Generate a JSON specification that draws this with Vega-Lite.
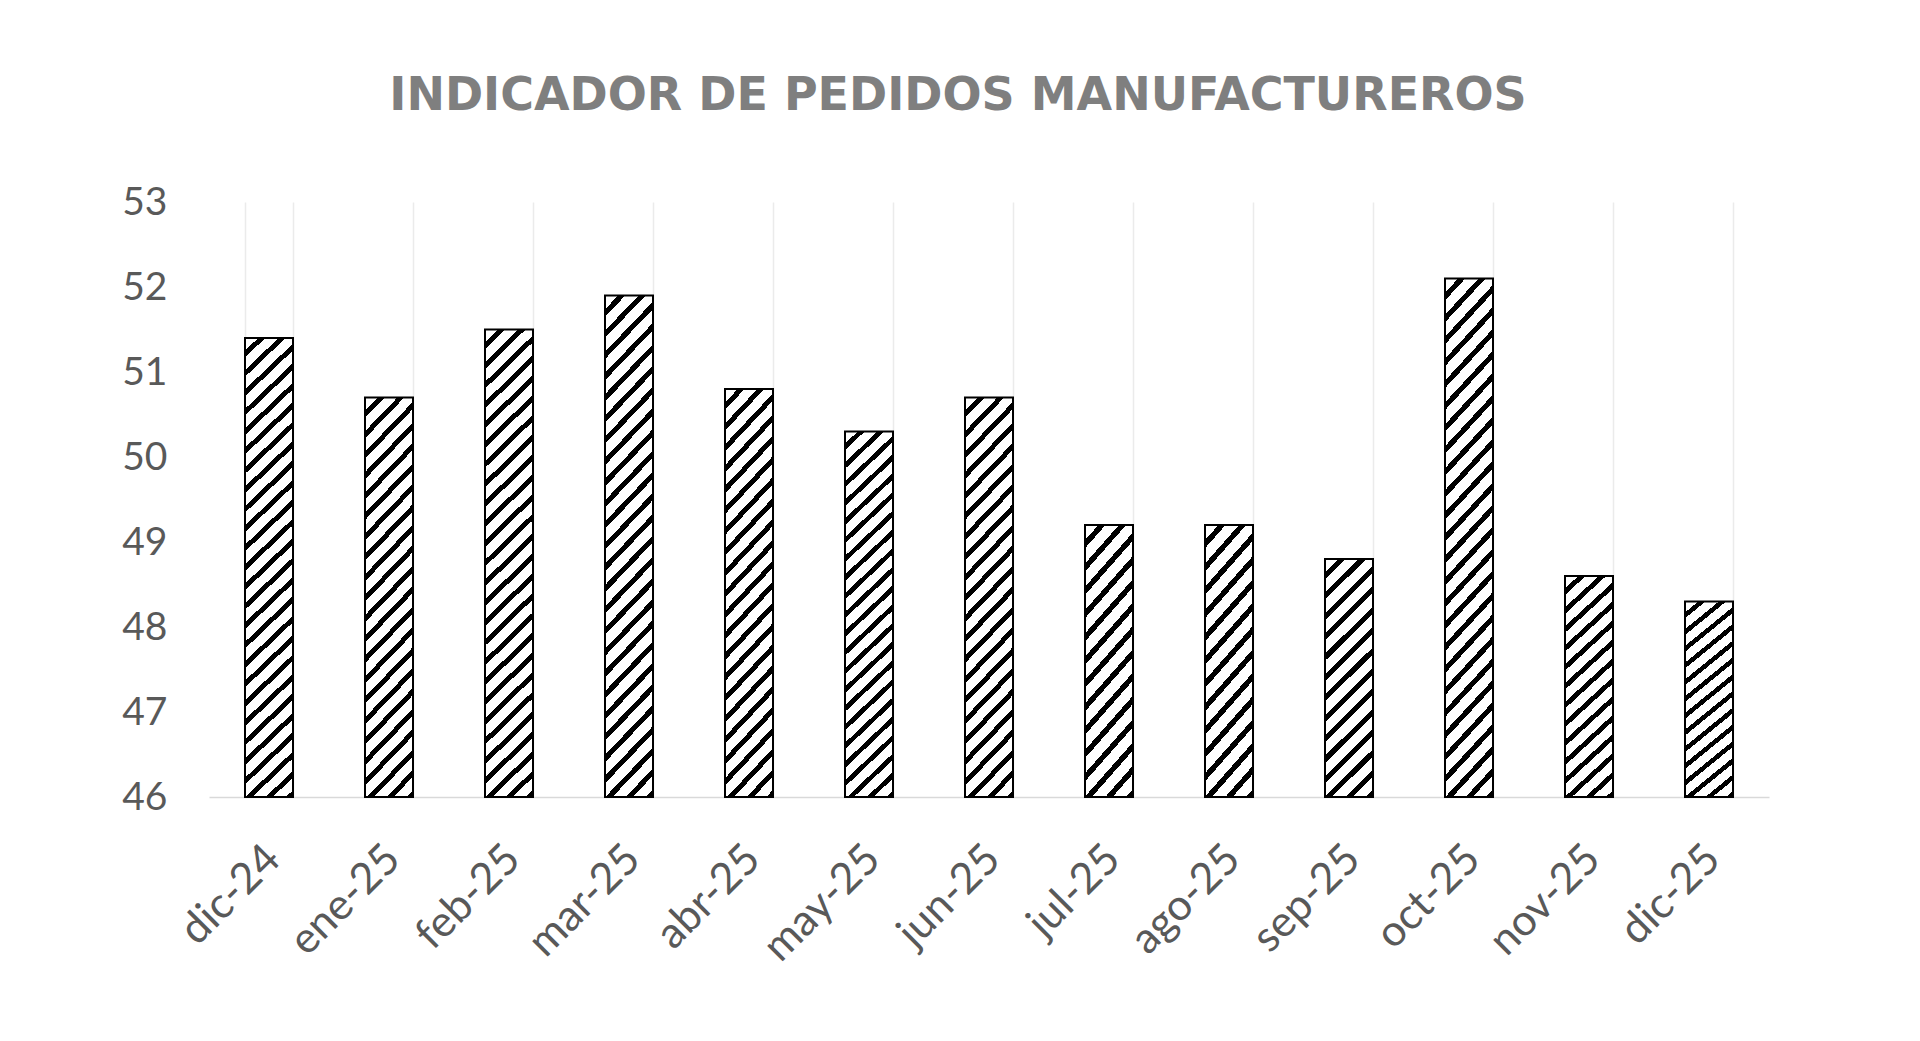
{
  "$schema": "https://vega.github.io/schema/vega-lite/v6.json",
  "width": 1560,
  "height": 595,
  "autosize": "none",
  "padding": {"left": 209, "top": 202, "right": 151, "bottom": 244},
  "background": "#ffffff",
  "title": {
    "text": "INDICADOR DE PEDIDOS MANUFACTUREROS",
    "font": "DejaVu Sans",
    "fontSize": 46,
    "fontWeight": "bold",
    "color": "#7f7f7f",
    "anchor": "middle",
    "baseline": "alphabetic",
    "offset": 27,
    "dx": -31
  },
  "data": {
    "values": [
      {"mes": "dic-24", "valor": 51.4},
      {"mes": "ene-25", "valor": 50.7},
      {"mes": "feb-25", "valor": 51.5},
      {"mes": "mar-25", "valor": 51.9},
      {"mes": "abr-25", "valor": 50.8},
      {"mes": "may-25", "valor": 50.3},
      {"mes": "jun-25", "valor": 50.7},
      {"mes": "jul-25", "valor": 49.2},
      {"mes": "ago-25", "valor": 49.2},
      {"mes": "sep-25", "valor": 48.8},
      {"mes": "oct-25", "valor": 52.1},
      {"mes": "nov-25", "valor": 48.6},
      {"mes": "dic-25", "valor": 48.3}
    ]
  },
  "mark": {"type": "bar", "stroke": "#000000", "strokeWidth": 2},
  "encoding": {
    "x": {
      "field": "mes",
      "type": "nominal",
      "sort": null,
      "scale": {"paddingInner": 0.6, "paddingOuter": 0.3},
      "axis": {
        "title": null,
        "labelAngle": -45,
        "labelFont": "Lato",
        "labelFontSize": 43,
        "labelColor": "#595959",
        "labelPadding": 40,
        "labelOffset": -11,
        "ticks": false,
        "grid": true,
        "gridColor": "#ebebeb",
        "gridWidth": 1.5,
        "tickBand": "extent",
        "domainColor": "#d9d9d9",
        "domainWidth": 1.5
      }
    },
    "y": {
      "field": "valor",
      "type": "quantitative",
      "scale": {"domain": [46, 53], "zero": false, "nice": false},
      "axis": {
        "title": null,
        "values": [46, 47, 48, 49, 50, 51, 52, 53],
        "labelFont": "Lato",
        "labelFontSize": 39,
        "labelColor": "#595959",
        "labelPadding": 42,
        "ticks": false,
        "domain": false,
        "grid": false
      }
    },
    "y2": {"datum": 46},
    "fill": {
      "condition": [
        {
          "test": "datum.valor < 49.5",
          "value": {
            "gradient": "linear",
            "x1": 0, "y1": 0, "x2": 0.2308, "y2": 1.1538,
            "stops": [
              {"offset": 0, "color": "#ffffff"}, {"offset": 0.0464, "color": "#ffffff"}, {"offset": 0.0464, "color": "#000000"}, {"offset": 0.0714, "color": "#000000"},
              {"offset": 0.0714, "color": "#ffffff"}, {"offset": 0.1179, "color": "#ffffff"}, {"offset": 0.1179, "color": "#000000"}, {"offset": 0.1429, "color": "#000000"},
              {"offset": 0.1429, "color": "#ffffff"}, {"offset": 0.1893, "color": "#ffffff"}, {"offset": 0.1893, "color": "#000000"}, {"offset": 0.2143, "color": "#000000"},
              {"offset": 0.2143, "color": "#ffffff"}, {"offset": 0.2607, "color": "#ffffff"}, {"offset": 0.2607, "color": "#000000"}, {"offset": 0.2857, "color": "#000000"},
              {"offset": 0.2857, "color": "#ffffff"}, {"offset": 0.3321, "color": "#ffffff"}, {"offset": 0.3321, "color": "#000000"}, {"offset": 0.3571, "color": "#000000"},
              {"offset": 0.3571, "color": "#ffffff"}, {"offset": 0.4036, "color": "#ffffff"}, {"offset": 0.4036, "color": "#000000"}, {"offset": 0.4286, "color": "#000000"},
              {"offset": 0.4286, "color": "#ffffff"}, {"offset": 0.4750, "color": "#ffffff"}, {"offset": 0.4750, "color": "#000000"}, {"offset": 0.5, "color": "#000000"},
              {"offset": 0.5, "color": "#ffffff"}, {"offset": 0.5464, "color": "#ffffff"}, {"offset": 0.5464, "color": "#000000"}, {"offset": 0.5714, "color": "#000000"},
              {"offset": 0.5714, "color": "#ffffff"}, {"offset": 0.6179, "color": "#ffffff"}, {"offset": 0.6179, "color": "#000000"}, {"offset": 0.6429, "color": "#000000"},
              {"offset": 0.6429, "color": "#ffffff"}, {"offset": 0.6893, "color": "#ffffff"}, {"offset": 0.6893, "color": "#000000"}, {"offset": 0.7143, "color": "#000000"},
              {"offset": 0.7143, "color": "#ffffff"}, {"offset": 0.7607, "color": "#ffffff"}, {"offset": 0.7607, "color": "#000000"}, {"offset": 0.7857, "color": "#000000"},
              {"offset": 0.7857, "color": "#ffffff"}, {"offset": 0.8321, "color": "#ffffff"}, {"offset": 0.8321, "color": "#000000"}, {"offset": 0.8571, "color": "#000000"},
              {"offset": 0.8571, "color": "#ffffff"}, {"offset": 0.9036, "color": "#ffffff"}, {"offset": 0.9036, "color": "#000000"}, {"offset": 0.9286, "color": "#000000"},
              {"offset": 0.9286, "color": "#ffffff"}, {"offset": 0.9750, "color": "#ffffff"}, {"offset": 0.9750, "color": "#000000"}, {"offset": 1, "color": "#000000"}
            ]
          }
        },
        {
          "test": "datum.valor > 51",
          "value": {
            "gradient": "linear",
            "x1": 0, "y1": 0, "x2": 0.1089, "y2": 1.089,
            "stops": [
              {"offset": 0, "color": "#ffffff"}, {"offset": 0.025, "color": "#ffffff"}, {"offset": 0.025, "color": "#000000"}, {"offset": 0.0385, "color": "#000000"},
              {"offset": 0.0385, "color": "#ffffff"}, {"offset": 0.0635, "color": "#ffffff"}, {"offset": 0.0635, "color": "#000000"}, {"offset": 0.0769, "color": "#000000"},
              {"offset": 0.0769, "color": "#ffffff"}, {"offset": 0.1019, "color": "#ffffff"}, {"offset": 0.1019, "color": "#000000"}, {"offset": 0.1154, "color": "#000000"},
              {"offset": 0.1154, "color": "#ffffff"}, {"offset": 0.1404, "color": "#ffffff"}, {"offset": 0.1404, "color": "#000000"}, {"offset": 0.1538, "color": "#000000"},
              {"offset": 0.1538, "color": "#ffffff"}, {"offset": 0.1788, "color": "#ffffff"}, {"offset": 0.1788, "color": "#000000"}, {"offset": 0.1923, "color": "#000000"},
              {"offset": 0.1923, "color": "#ffffff"}, {"offset": 0.2173, "color": "#ffffff"}, {"offset": 0.2173, "color": "#000000"}, {"offset": 0.2308, "color": "#000000"},
              {"offset": 0.2308, "color": "#ffffff"}, {"offset": 0.2558, "color": "#ffffff"}, {"offset": 0.2558, "color": "#000000"}, {"offset": 0.2692, "color": "#000000"},
              {"offset": 0.2692, "color": "#ffffff"}, {"offset": 0.2942, "color": "#ffffff"}, {"offset": 0.2942, "color": "#000000"}, {"offset": 0.3077, "color": "#000000"},
              {"offset": 0.3077, "color": "#ffffff"}, {"offset": 0.3327, "color": "#ffffff"}, {"offset": 0.3327, "color": "#000000"}, {"offset": 0.3462, "color": "#000000"},
              {"offset": 0.3462, "color": "#ffffff"}, {"offset": 0.3712, "color": "#ffffff"}, {"offset": 0.3712, "color": "#000000"}, {"offset": 0.3846, "color": "#000000"},
              {"offset": 0.3846, "color": "#ffffff"}, {"offset": 0.4096, "color": "#ffffff"}, {"offset": 0.4096, "color": "#000000"}, {"offset": 0.4231, "color": "#000000"},
              {"offset": 0.4231, "color": "#ffffff"}, {"offset": 0.4481, "color": "#ffffff"}, {"offset": 0.4481, "color": "#000000"}, {"offset": 0.4615, "color": "#000000"},
              {"offset": 0.4615, "color": "#ffffff"}, {"offset": 0.4865, "color": "#ffffff"}, {"offset": 0.4865, "color": "#000000"}, {"offset": 0.5, "color": "#000000"},
              {"offset": 0.5, "color": "#ffffff"}, {"offset": 0.525, "color": "#ffffff"}, {"offset": 0.525, "color": "#000000"}, {"offset": 0.5385, "color": "#000000"},
              {"offset": 0.5385, "color": "#ffffff"}, {"offset": 0.5635, "color": "#ffffff"}, {"offset": 0.5635, "color": "#000000"}, {"offset": 0.5769, "color": "#000000"},
              {"offset": 0.5769, "color": "#ffffff"}, {"offset": 0.6019, "color": "#ffffff"}, {"offset": 0.6019, "color": "#000000"}, {"offset": 0.6154, "color": "#000000"},
              {"offset": 0.6154, "color": "#ffffff"}, {"offset": 0.6404, "color": "#ffffff"}, {"offset": 0.6404, "color": "#000000"}, {"offset": 0.6538, "color": "#000000"},
              {"offset": 0.6538, "color": "#ffffff"}, {"offset": 0.6788, "color": "#ffffff"}, {"offset": 0.6788, "color": "#000000"}, {"offset": 0.6923, "color": "#000000"},
              {"offset": 0.6923, "color": "#ffffff"}, {"offset": 0.7173, "color": "#ffffff"}, {"offset": 0.7173, "color": "#000000"}, {"offset": 0.7308, "color": "#000000"},
              {"offset": 0.7308, "color": "#ffffff"}, {"offset": 0.7558, "color": "#ffffff"}, {"offset": 0.7558, "color": "#000000"}, {"offset": 0.7692, "color": "#000000"},
              {"offset": 0.7692, "color": "#ffffff"}, {"offset": 0.7942, "color": "#ffffff"}, {"offset": 0.7942, "color": "#000000"}, {"offset": 0.8077, "color": "#000000"},
              {"offset": 0.8077, "color": "#ffffff"}, {"offset": 0.8327, "color": "#ffffff"}, {"offset": 0.8327, "color": "#000000"}, {"offset": 0.8462, "color": "#000000"},
              {"offset": 0.8462, "color": "#ffffff"}, {"offset": 0.8712, "color": "#ffffff"}, {"offset": 0.8712, "color": "#000000"}, {"offset": 0.8846, "color": "#000000"},
              {"offset": 0.8846, "color": "#ffffff"}, {"offset": 0.9096, "color": "#ffffff"}, {"offset": 0.9096, "color": "#000000"}, {"offset": 0.9231, "color": "#000000"},
              {"offset": 0.9231, "color": "#ffffff"}, {"offset": 0.9481, "color": "#ffffff"}, {"offset": 0.9481, "color": "#000000"}, {"offset": 0.9615, "color": "#000000"},
              {"offset": 0.9615, "color": "#ffffff"}, {"offset": 0.9865, "color": "#ffffff"}, {"offset": 0.9865, "color": "#000000"}, {"offset": 1, "color": "#000000"}
            ]
          }
        }
      ],
      "value": {
        "gradient": "linear",
        "x1": 0, "y1": 0, "x2": 0.1385, "y2": 1.108,
        "stops": [
          {"offset": 0, "color": "#ffffff"}, {"offset": 0.0295, "color": "#ffffff"}, {"offset": 0.0295, "color": "#000000"}, {"offset": 0.0455, "color": "#000000"},
          {"offset": 0.0455, "color": "#ffffff"}, {"offset": 0.0750, "color": "#ffffff"}, {"offset": 0.0750, "color": "#000000"}, {"offset": 0.0909, "color": "#000000"},
          {"offset": 0.0909, "color": "#ffffff"}, {"offset": 0.1205, "color": "#ffffff"}, {"offset": 0.1205, "color": "#000000"}, {"offset": 0.1364, "color": "#000000"},
          {"offset": 0.1364, "color": "#ffffff"}, {"offset": 0.1659, "color": "#ffffff"}, {"offset": 0.1659, "color": "#000000"}, {"offset": 0.1818, "color": "#000000"},
          {"offset": 0.1818, "color": "#ffffff"}, {"offset": 0.2114, "color": "#ffffff"}, {"offset": 0.2114, "color": "#000000"}, {"offset": 0.2273, "color": "#000000"},
          {"offset": 0.2273, "color": "#ffffff"}, {"offset": 0.2568, "color": "#ffffff"}, {"offset": 0.2568, "color": "#000000"}, {"offset": 0.2727, "color": "#000000"},
          {"offset": 0.2727, "color": "#ffffff"}, {"offset": 0.3023, "color": "#ffffff"}, {"offset": 0.3023, "color": "#000000"}, {"offset": 0.3182, "color": "#000000"},
          {"offset": 0.3182, "color": "#ffffff"}, {"offset": 0.3477, "color": "#ffffff"}, {"offset": 0.3477, "color": "#000000"}, {"offset": 0.3636, "color": "#000000"},
          {"offset": 0.3636, "color": "#ffffff"}, {"offset": 0.3932, "color": "#ffffff"}, {"offset": 0.3932, "color": "#000000"}, {"offset": 0.4091, "color": "#000000"},
          {"offset": 0.4091, "color": "#ffffff"}, {"offset": 0.4386, "color": "#ffffff"}, {"offset": 0.4386, "color": "#000000"}, {"offset": 0.4545, "color": "#000000"},
          {"offset": 0.4545, "color": "#ffffff"}, {"offset": 0.4841, "color": "#ffffff"}, {"offset": 0.4841, "color": "#000000"}, {"offset": 0.5, "color": "#000000"},
          {"offset": 0.5, "color": "#ffffff"}, {"offset": 0.5295, "color": "#ffffff"}, {"offset": 0.5295, "color": "#000000"}, {"offset": 0.5455, "color": "#000000"},
          {"offset": 0.5455, "color": "#ffffff"}, {"offset": 0.5750, "color": "#ffffff"}, {"offset": 0.5750, "color": "#000000"}, {"offset": 0.5909, "color": "#000000"},
          {"offset": 0.5909, "color": "#ffffff"}, {"offset": 0.6205, "color": "#ffffff"}, {"offset": 0.6205, "color": "#000000"}, {"offset": 0.6364, "color": "#000000"},
          {"offset": 0.6364, "color": "#ffffff"}, {"offset": 0.6659, "color": "#ffffff"}, {"offset": 0.6659, "color": "#000000"}, {"offset": 0.6818, "color": "#000000"},
          {"offset": 0.6818, "color": "#ffffff"}, {"offset": 0.7114, "color": "#ffffff"}, {"offset": 0.7114, "color": "#000000"}, {"offset": 0.7273, "color": "#000000"},
          {"offset": 0.7273, "color": "#ffffff"}, {"offset": 0.7568, "color": "#ffffff"}, {"offset": 0.7568, "color": "#000000"}, {"offset": 0.7727, "color": "#000000"},
          {"offset": 0.7727, "color": "#ffffff"}, {"offset": 0.8023, "color": "#ffffff"}, {"offset": 0.8023, "color": "#000000"}, {"offset": 0.8182, "color": "#000000"},
          {"offset": 0.8182, "color": "#ffffff"}, {"offset": 0.8477, "color": "#ffffff"}, {"offset": 0.8477, "color": "#000000"}, {"offset": 0.8636, "color": "#000000"},
          {"offset": 0.8636, "color": "#ffffff"}, {"offset": 0.8932, "color": "#ffffff"}, {"offset": 0.8932, "color": "#000000"}, {"offset": 0.9091, "color": "#000000"},
          {"offset": 0.9091, "color": "#ffffff"}, {"offset": 0.9386, "color": "#ffffff"}, {"offset": 0.9386, "color": "#000000"}, {"offset": 0.9545, "color": "#000000"},
          {"offset": 0.9545, "color": "#ffffff"}, {"offset": 0.9841, "color": "#ffffff"}, {"offset": 0.9841, "color": "#000000"}, {"offset": 1, "color": "#000000"}
        ]
      }
    }
  },
  "config": {"view": {"stroke": null}}
}
